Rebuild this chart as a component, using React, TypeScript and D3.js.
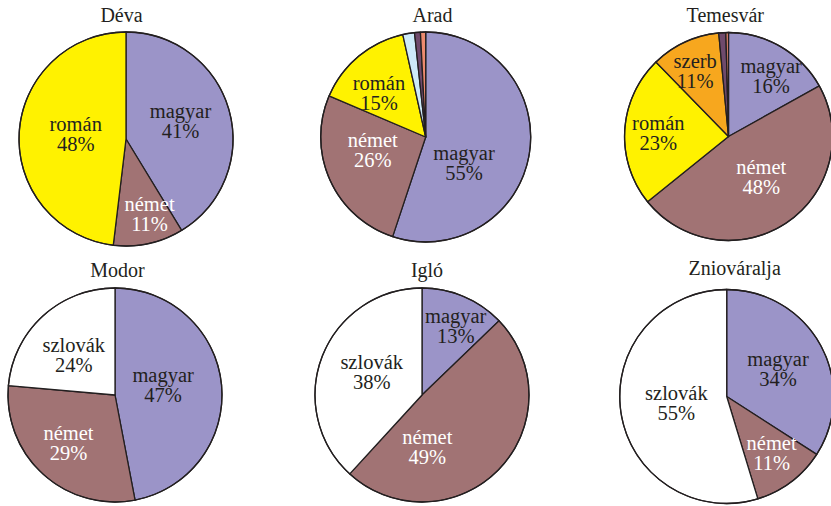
import React from "react";
import * as d3 from "d3";

// ---- data ----
const cities = ["Déva", "Arad", "Temesvár", "Modor", "Igló", "Zniováralja"];

const devaGroups = ["magyar", "német", "román"];
const devaValues = [41.3, 10.6, 48.1];
const devaPct = ["41%", "11%", "48%"];

const aradGroups = ["magyar", "német", "román", "egyéb1", "egyéb2", "egyéb3"];
const aradValues = [55.1, 26.3, 15.1, 1.8, 0.9, 0.8];
const aradPct = ["55%", "26%", "15%", "", "", ""];

const temesvarGroups = ["magyar", "német", "román", "szerb", "egyéb2", "egyéb3"];
const temesvarValues = [16.9, 47.3, 23.5, 10.8, 1.1, 0.4];
const temesvarPct = ["16%", "48%", "23%", "11%", "", ""];

const modorGroups = ["magyar", "német", "szlovák"];
const modorValues = [47.0, 29.4, 23.6];
const modorPct = ["47%", "29%", "24%"];

const igloGroups = ["magyar", "német", "szlovák"];
const igloValues = [12.8, 49.0, 38.2];
const igloPct = ["13%", "49%", "38%"];

const zniovaraljaGroups = ["magyar", "német", "szlovák"];
const zniovaraljaValues = [34.1, 11.2, 54.7];
const zniovaraljaPct = ["34%", "11%", "55%"];

const seriesGroups = [devaGroups, aradGroups, temesvarGroups, modorGroups, igloGroups, zniovaraljaGroups];
const seriesValues = [devaValues, aradValues, temesvarValues, modorValues, igloValues, zniovaraljaValues];
const seriesPct = [devaPct, aradPct, temesvarPct, modorPct, igloPct, zniovaraljaPct];

// ---- styles / layout ----
const colors: Record<string, string> = {
  magyar: "#9b94c8",
  német: "#a17374",
  román: "#fff200",
  szerb: "#f7a71e",
  szlovák: "#ffffff",
  egyéb1: "#cdeaf8",
  egyéb2: "#6f4a6c",
  egyéb3: "#ec8a6e",
};
const labelColors: Record<string, string> = {
  magyar: "#231f20",
  német: "#ffffff",
  román: "#231f20",
  szerb: "#231f20",
  szlovák: "#231f20",
};

const layout = [
  { cx: 126, cy: 139, r: 107, titleX: 121.5, titleY: 22, lp: [[0.51, -0.1], [0.22, 0.765], [-0.47, 0.015]] },
  { cx: 425.7, cy: 137, r: 105, titleX: 432.5, titleY: 22, lp: [[0.365, 0.31], [-0.505, 0.19], [-0.445, -0.35]] },
  { cx: 728.5, cy: 136.5, r: 104, titleX: 725.3, titleY: 22, lp: [[0.41, -0.51], [0.315, 0.46], [-0.675, 0.035], [-0.32, -0.56]] },
  { cx: 115, cy: 395, r: 107, titleX: 117.5, titleY: 277, lp: [[0.45, -0.03], [-0.435, 0.51], [-0.385, -0.31]] },
  { cx: 422, cy: 395, r: 107, titleX: 427, titleY: 277, lp: [[0.315, -0.58], [0.05, 0.55], [-0.47, -0.15]] },
  { cx: 726.7, cy: 396.5, r: 107, titleX: 734.7, titleY: 275, lp: [[0.48, -0.19], [0.42, 0.59], [-0.47, 0.13]] },
];

const FONT = "'Liberation Serif', 'Times New Roman', Times, serif";

export default function App() {
  const pie = d3.pie<number>().sort(null).value((d) => d);
  return (
    <svg
      width={831}
      height={506}
      style={{ position: "absolute", left: 0, top: 0, background: "#fff" }}
    >
      {cities.map((city, i) => {
        const L = layout[i];
        const arcs = pie(seriesValues[i]);
        const arc = d3.arc<d3.PieArcDatum<number>>().innerRadius(0).outerRadius(L.r);
        const groups = seriesGroups[i];
        return (
          <g key={city}>
            <g transform={`translate(${L.cx},${L.cy})`}>
              {arcs.map((a, j) => (
                <path
                  key={j}
                  d={arc(a) || ""}
                  fill={colors[groups[j]]}
                  stroke="#231f20"
                  strokeWidth={1.3}
                  strokeLinejoin="round"
                />
              ))}
              <circle r={L.r} fill="none" stroke="#231f20" strokeWidth={1.3} />
            </g>
            {groups.map((g, j) => {
              const pct = seriesPct[i][j];
              if (!pct) return null;
              const p = L.lp[j];
              const x = L.cx + p[0] * L.r;
              const y = L.cy + p[1] * L.r;
              return (
                <g key={g}>
                  <text x={x} y={y - 10} textAnchor="middle" style={{ fontFamily: FONT, fontSize: "20.5px" }} fill={labelColors[g]}>
                    {g}
                  </text>
                  <text x={x} y={y + 10} textAnchor="middle" style={{ fontFamily: FONT, fontSize: "20.5px" }} fill={labelColors[g]}>
                    {pct}
                  </text>
                </g>
              );
            })}
            <text x={L.titleX} y={L.titleY} textAnchor="middle" style={{ fontFamily: FONT, fontSize: "20px" }} fill="#231f20">
              {city}
            </text>
          </g>
        );
      })}
    </svg>
  );
}
